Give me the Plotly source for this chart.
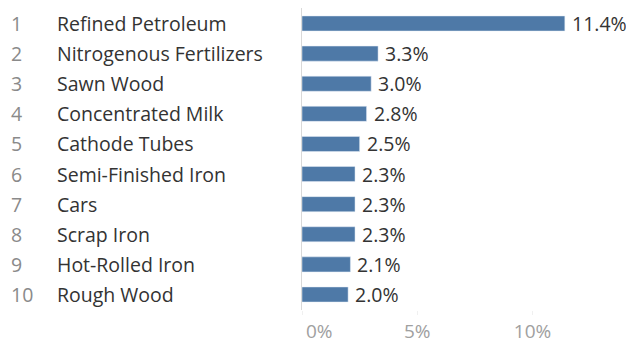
import plotly.graph_objects as go

ranks = ["1", "2", "3", "4", "5", "6", "7", "8", "9", "10"]
products = ["Refined Petroleum", "Nitrogenous Fertilizers", "Sawn Wood",
            "Concentrated Milk", "Cathode Tubes", "Semi-Finished Iron",
            "Cars", "Scrap Iron", "Hot-Rolled Iron", "Rough Wood"]
shares = [11.4, 3.3, 3.0, 2.8, 2.5, 2.3, 2.3, 2.3, 2.1, 2.0]
tick_vals = [0, 5, 10]
tick_text = ["0%", "5%", "10%"]

font = "Open Sans"
fsize = 19.5

fig = go.Figure(go.Bar(
    x=shares,
    y=products,
    orientation="h",
    width=0.5,
    marker=dict(color="#4e79a7"),
    hoverinfo="x+y",
))

# page body has an 8px margin, so offsets below are relative to that
annotations = []
for r, p, v in zip(ranks, products, shares):
    annotations.append(dict(x=0, xref="paper", y=p, yref="y", text=r,
                            showarrow=False, xanchor="left", xshift=-293,
                            font=dict(family=font, size=fsize, color="#8a8a8a")))
    annotations.append(dict(x=0, xref="paper", y=p, yref="y", text=p,
                            showarrow=False, xanchor="left", xshift=-247,
                            font=dict(family=font, size=fsize, color="#333333")))
    annotations.append(dict(x=v, xref="x", y=p, yref="y", text="%.1f%%" % v,
                            showarrow=False, xanchor="left", xshift=5,
                            font=dict(family=font, size=fsize, color="#333333")))

# first tick label sits to the right of the axis, like the original
annotations.append(dict(x=tick_vals[0], xref="x", y=0, yref="paper", text=tick_text[0],
                        showarrow=False, xanchor="left", yanchor="top", yshift=-6, xshift=2,
                        font=dict(family=font, size=19, color="#a0a0a0")))

fig.update_layout(
    width=626, height=335,
    margin=dict(l=294, r=0, t=0, b=33),
    plot_bgcolor="white", paper_bgcolor="white",
    showlegend=False,
    annotations=annotations,
    xaxis=dict(range=[0, 14.4], tickvals=tick_vals, ticktext=[""] + tick_text[1:],
               showgrid=False, zeroline=False, showline=False, automargin=False,
               ticks="outside", ticklen=4, tickcolor="#f0f0f0",
               tickfont=dict(family=font, size=19, color="#a0a0a0")),
    yaxis=dict(autorange="reversed", showticklabels=False, showgrid=False,
               zeroline=False, showline=True, linecolor="#d9d9d9", linewidth=1,
               automargin=False),
)

fig.write_html("out.html")
